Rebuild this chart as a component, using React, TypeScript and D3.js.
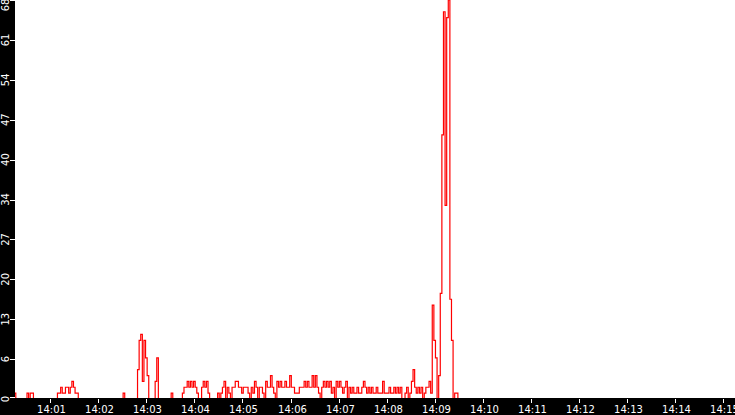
import { useRef, useEffect } from 'react';
import * as d3 from 'd3';

const WIDTH = 735;
const HEIGHT = 415;

// one sample every 2 seconds, first one at 14:00:16
const startTime = new Date(2020, 0, 1, 14, 0, 16);
const endTime = new Date(2020, 0, 1, 14, 15, 15);
const sampleSeconds = 2;

const yMax = 68;
const yTickLabels = ['0', '6', '13', '20', '27', '34', '40', '47', '54', '61', '68'];

const values = [
  1, 0, 0, 0, 0, 0, 0, 0, 1, 0, 1, 1, 0, 0, 0, 0, 0, 0, 0, 0,
  0, 0, 0, 0, 0, 0, 0, 1, 1, 2, 1, 1, 2, 2, 1, 2, 3, 2, 1, 1,
  0, 0, 0, 0, 0, 0, 0, 0, 0, 0, 0, 0, 0, 0, 0, 0, 0, 0, 0, 0,
  0, 0, 0, 0, 0, 0, 0, 0, 1, 0, 0, 0, 0, 0, 0, 0, 0, 5, 10, 11,
  3, 10, 7, 4, 0, 0, 0, 0, 3, 7, 0, 0, 0, 0, 0, 0, 0, 0, 1, 0,
  0, 0, 0, 0, 0, 1, 2, 2, 3, 2, 3, 2, 3, 2, 1, 0, 0, 2, 3, 2,
  3, 1, 0, 0, 0, 0, 0, 1, 0, 1, 2, 3, 0, 2, 1, 0, 2, 2, 3, 3,
  2, 2, 1, 2, 2, 2, 1, 0, 2, 1, 3, 2, 0, 2, 2, 1, 0, 3, 2, 2,
  4, 2, 1, 0, 3, 2, 3, 2, 2, 3, 2, 2, 4, 2, 2, 1, 1, 1, 2, 2,
  2, 3, 2, 3, 2, 2, 4, 2, 4, 2, 1, 0, 2, 3, 2, 3, 2, 3, 1, 2,
  0, 3, 2, 3, 2, 1, 2, 3, 0, 2, 1, 2, 1, 1, 2, 1, 1, 2, 3, 2,
  1, 2, 1, 2, 1, 1, 2, 1, 1, 1, 3, 1, 1, 1, 2, 1, 1, 2, 1, 2,
  1, 2, 0, 0, 1, 2, 0, 1, 3, 5, 2, 1, 2, 1, 2, 0, 1, 2, 2, 3,
  1, 16, 10, 7, 0, 4, 18, 45, 66, 33, 65, 68, 17, 10, 0, 1, 1, 0,
];

export default function App() {
  const svgRef = useRef<SVGSVGElement>(null);

  useEffect(() => {
    if (!svgRef.current) return;
    const svg = d3.select(svgRef.current);
    svg.selectAll('*').remove();

    const axisW = 15;
    const baseY = 399;

    const x = d3.scaleTime().domain([startTime, endTime]).range([axisW, WIDTH]);
    const y = d3.scaleLinear().domain([0, yMax]).range([baseY, 0]);

    const points = values.map((v, i) => ({
      t: new Date(startTime.getTime() + i * sampleSeconds * 1000),
      v,
    }));

    svg.append('rect').attr('width', WIDTH).attr('height', HEIGHT).attr('fill', '#fff');

    const line = d3.line<typeof points[0]>()
      .x((d) => x(d.t))
      .y((d) => y(d.v))
      .curve(d3.curveStep);

    svg.append('path')
      .datum(points)
      .attr('fill', 'none')
      .attr('stroke', '#ff0000')
      .attr('stroke-width', 1.2)
      .attr('d', line);

    // black axis bars
    svg.append('rect').attr('x', 0).attr('y', 0).attr('width', axisW).attr('height', HEIGHT).attr('fill', '#000');
    svg.append('rect').attr('x', 0).attr('y', baseY - 1).attr('width', WIDTH).attr('height', HEIGHT - baseY + 1).attr('fill', '#000');

    // y ticks
    yTickLabels.forEach((label, i) => {
      const yy = y((yMax * i) / 10);
      const ty = Math.round(Math.min(yy, 397)) + 0.5;
      svg.append('line')
        .attr('x1', 10).attr('x2', axisW)
        .attr('y1', ty).attr('y2', ty)
        .attr('stroke', '#fff')
        .attr('shape-rendering', 'crispEdges');
      svg.append('text')
        .attr('transform', `translate(5.5,${Math.max(yy, 5)}) rotate(-90)`)
        .attr('text-anchor', 'middle')
        .attr('dominant-baseline', 'central')
        .attr('font-family', 'DejaVu Sans')
        .attr('font-size', '10px')
        .attr('fill', '#fff')
        .text(label);
    });

    // x ticks
    const fmt = d3.timeFormat('%H:%M');
    x.ticks(d3.timeMinute.every(1)!).forEach((t) => {
      const xx = Math.round(x(t)) + 0.5;
      svg.append('line')
        .attr('x1', xx).attr('x2', xx)
        .attr('y1', baseY).attr('y2', baseY + 4)
        .attr('stroke', '#fff')
        .attr('shape-rendering', 'crispEdges');
      svg.append('text')
        .attr('x', xx + 1)
        .attr('y', 413)
        .attr('text-anchor', 'middle')
        .attr('font-family', 'DejaVu Sans')
        .attr('font-size', '10px')
        .attr('fill', '#fff')
        .text(fmt(t));
    });
  }, []);

  return (
    <svg
      ref={svgRef}
      width={WIDTH}
      height={HEIGHT}
      style={{ position: 'fixed', left: 0, top: 0, display: 'block' }}
    />
  );
}
